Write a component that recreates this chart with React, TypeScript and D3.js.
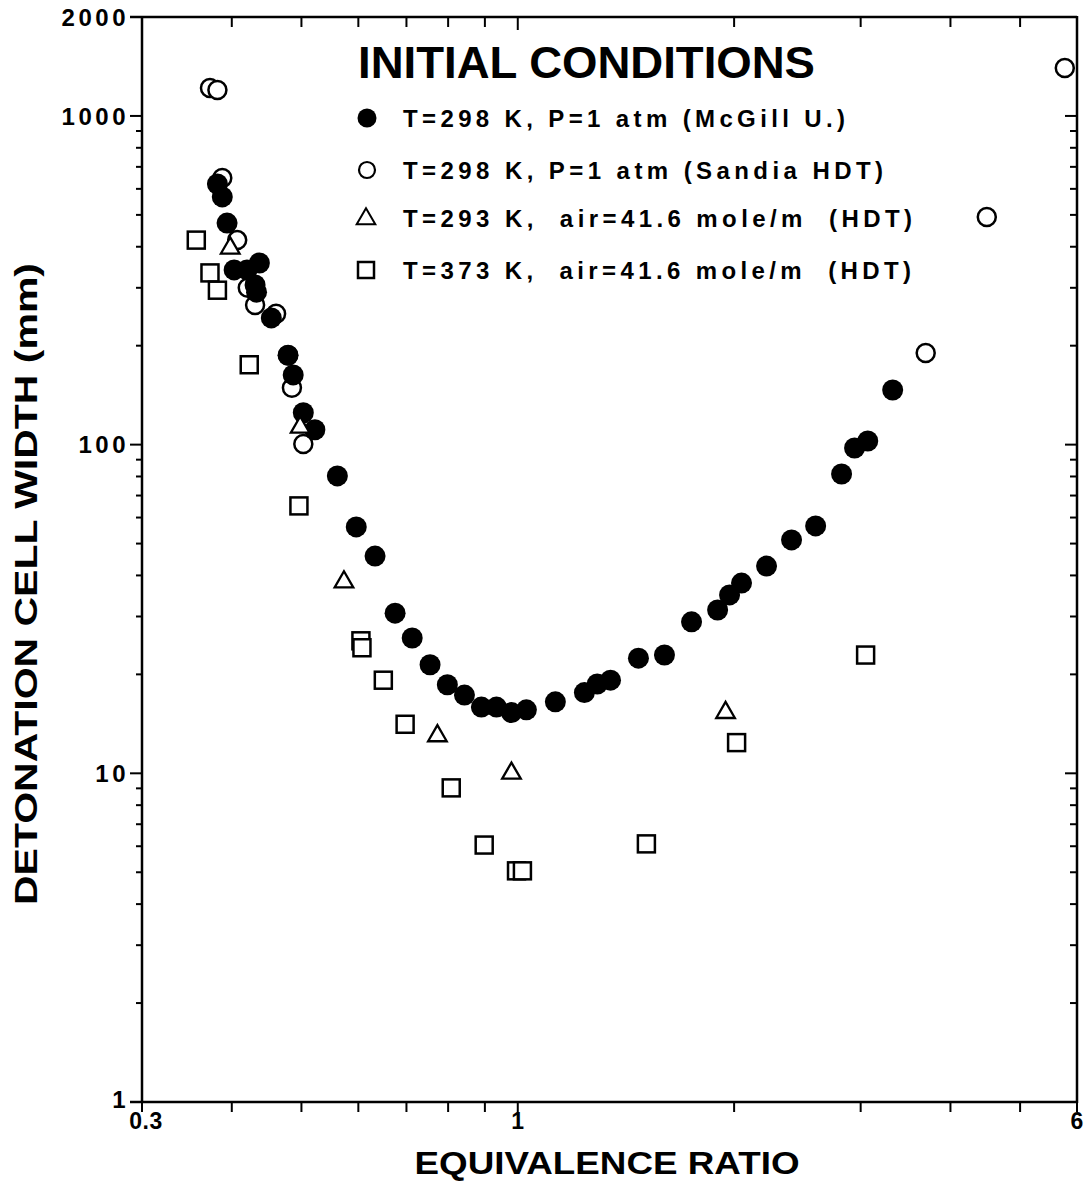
import React from "react";
import * as d3 from "d3";

// ---- data (equivalence ratio, cell width mm) ----
const mcgillPhi = [0.382, 0.388, 0.394, 0.403, 0.420, 0.431, 0.437, 0.433, 0.454, 0.479, 0.487, 0.503, 0.522, 0.561, 0.596, 0.633, 0.675, 0.713, 0.755, 0.798, 0.843, 0.890, 0.934, 0.980, 1.028, 1.128, 1.238, 1.290, 1.346, 1.472, 1.600, 1.745, 1.897, 1.971, 2.048, 2.219, 2.404, 2.597, 2.822, 2.942, 3.069, 3.324];
const mcgillWidth = [621, 567, 472, 340, 340, 306, 357, 291, 243, 187, 163, 125, 111, 80.3, 56.2, 45.8, 30.7, 25.8, 21.4, 18.6, 17.3, 15.9, 15.9, 15.3, 15.6, 16.5, 17.6, 18.7, 19.2, 22.4, 22.9, 28.9, 31.4, 34.9, 37.9, 42.7, 51.3, 56.6, 81.4, 97.7, 102.6, 146.6];

const sandiaPhi = [0.373, 0.382, 0.388, 0.407, 0.421, 0.431, 0.461, 0.479, 0.485, 0.503, 3.695, 4.494, 5.77];
const sandiaWidth = [1216, 1199, 647, 419, 300, 266, 250, 187, 149, 100.4, 190, 493, 1399];

const hdt293Phi = [0.398, 0.498, 0.573, 0.773, 0.980, 1.946];
const hdt293Width = [396, 113, 38.2, 13.0, 10.0, 15.3];

const hdt373Phi = [0.357, 0.373, 0.382, 0.423, 0.496, 0.605, 0.607, 0.650, 0.697, 0.808, 0.898, 0.996, 1.015, 1.510, 2.016, 3.048];
const hdt373Width = [419, 333, 295, 175, 65.1, 25.3, 24.1, 19.2, 14.1, 9.03, 6.05, 5.05, 5.05, 6.10, 12.4, 22.9];

const yTickLabels = [2000, 1000, 100, 10, 1];
const xTickLabels = [0.3, 1, 6];

const legendTitle = "INITIAL CONDITIONS";
const legendLabels = [
  "T=298 K, P=1 atm (McGill U.)",
  "T=298 K, P=1 atm (Sandia HDT)",
  "T=293 K,  air=41.6 mole/m  (HDT)",
  "T=373 K,  air=41.6 mole/m  (HDT)",
];
const legendWidths = [442, 480, 509, 508];

const FONT = "'Liberation Sans', Arial, Helvetica, sans-serif";

export default function App() {
  const L = 142, T = 17, R = 1077, B = 1102;
  const x = d3.scaleLog().domain([0.3, 6]).range([L, R]);
  const y = d3.scaleLog().domain([1, 2000]).range([B, T]);

  const xt = x.ticks();
  const yt = y.ticks();
  const isMajorY = (v: number) => Math.abs(Math.log10(v) - Math.round(Math.log10(v))) < 1e-9;

  const mk = (a: number[], b: number[]) => a.map((p, i) => ({ p, w: b[i] }));
  const mcgill = mk(mcgillPhi, mcgillWidth);
  const sandia = mk(sandiaPhi, sandiaWidth);
  const h293 = mk(hdt293Phi, hdt293Width);
  const h373 = mk(hdt373Phi, hdt373Width);

  const tri = d3.symbol().type(d3.symbolTriangle).size(150)();
  const sq = 17;

  const legendY = [118, 170, 218, 270];

  return (
    <svg width={1090} height={1189} style={{ position: "absolute", left: 0, top: 0, background: "#fff" }}
      fontFamily={FONT} fontWeight="bold">
      <rect x={0} y={0} width={1090} height={1189} fill="#fff" />
      {/* frame */}
      <g stroke="#000" strokeWidth={2.5} fill="none">
        <line x1={L} y1={T - 1} x2={L} y2={B + 1} />
        <line x1={R} y1={T - 1} x2={R} y2={B + 1} />
        <line x1={L - 12} y1={T} x2={R} y2={T} />
        <line x1={L - 12} y1={B} x2={R} y2={B} />
      </g>
      {/* ticks */}
      <g stroke="#000" strokeWidth={2}>
        {yt.map((v, i) => {
          const maj = isMajorY(v);
          const yy = y(v);
          return (
            <g key={"yt" + i}>
              <line x1={L - (maj ? 12 : 6)} x2={L} y1={yy} y2={yy} />
              <line x1={R - (maj ? 12 : 7)} x2={R} y1={yy} y2={yy} />
            </g>
          );
        })}
        {xt.map((v, i) => {
          const xx = x(v);
          const maj = Math.abs(v - 1) < 1e-9;
          return (
            <g key={"xt" + i}>
              <line x1={xx} x2={xx} y1={B} y2={B + (maj ? 13 : 10)} />
              <line x1={xx} x2={xx} y1={T} y2={T + (maj ? 13 : 10)} />
            </g>
          );
        })}
      </g>
      {/* y tick labels */}
      {yTickLabels.map((v) => (
        <text key={"yl" + v} x={129} y={v === 1 ? y(v) - 3 : y(v)} dy="0.36em" textAnchor="end" fontSize={24} letterSpacing={3.5}>
          {v}
        </text>
      ))}
      {/* x tick labels */}
      {xTickLabels.map((v) => (
        <text key={"xl" + v} x={v === 0.3 ? x(v) + 4 : x(v) + 1} y={1129} textAnchor="middle" fontSize={23} letterSpacing={v === 0.3 ? 0.5 : 2}>
          {v}
        </text>
      ))}
      {/* axis titles */}
      <text x={607} y={1174} textAnchor="middle" fontSize={32} textLength={385} lengthAdjust="spacingAndGlyphs">
        EQUIVALENCE RATIO
      </text>
      <text transform="translate(37,584) rotate(-90)" textAnchor="middle" fontSize={32} textLength={642} lengthAdjust="spacingAndGlyphs">
        DETONATION CELL WIDTH (mm)
      </text>

      {/* legend */}
      <text x={358} y={78} fontSize={44} textLength={457} lengthAdjust="spacingAndGlyphs">{legendTitle}</text>
      {legendLabels.map((t, i) => (
        <text key={"lg" + i} x={403} y={legendY[i] + 9} fontSize={24} textLength={legendWidths[i]}
          lengthAdjust="spacing" style={{ whiteSpace: "pre" }}>
          {t}
        </text>
      ))}
      <circle cx={367} cy={legendY[0]} r={9.5} fill="#000" />
      <circle cx={367} cy={legendY[1]} r={8} fill="#fff" stroke="#000" strokeWidth={2.2} />
      <path d={tri} transform={`translate(366,${legendY[2] + 1})`} fill="#fff" stroke="#000" strokeWidth={2} />
      <rect x={366 - 8} y={legendY[3] - 8} width={16} height={16} fill="#fff" stroke="#000" strokeWidth={2.5} />

      {/* data */}
      <g>
        {sandia.map((d, i) => (
          <circle key={"s" + i} cx={x(d.p)} cy={y(d.w)} r={9} fill="#fff" stroke="#000" strokeWidth={2.5} />
        ))}
        {mcgill.map((d, i) => (
          <circle key={"m" + i} cx={x(d.p)} cy={y(d.w)} r={10.5} fill="#000" />
        ))}
        {h293.map((d, i) => (
          <path key={"t" + i} d={tri} transform={`translate(${x(d.p)},${y(d.w)})`} fill="#fff" stroke="#000" strokeWidth={2.3} />
        ))}
        {h373.map((d, i) => (
          <rect key={"q" + i} x={x(d.p) - sq / 2} y={y(d.w) - sq / 2} width={sq} height={sq} fill="#fff" stroke="#000" strokeWidth={2.5} />
        ))}
      </g>
    </svg>
  );
}
